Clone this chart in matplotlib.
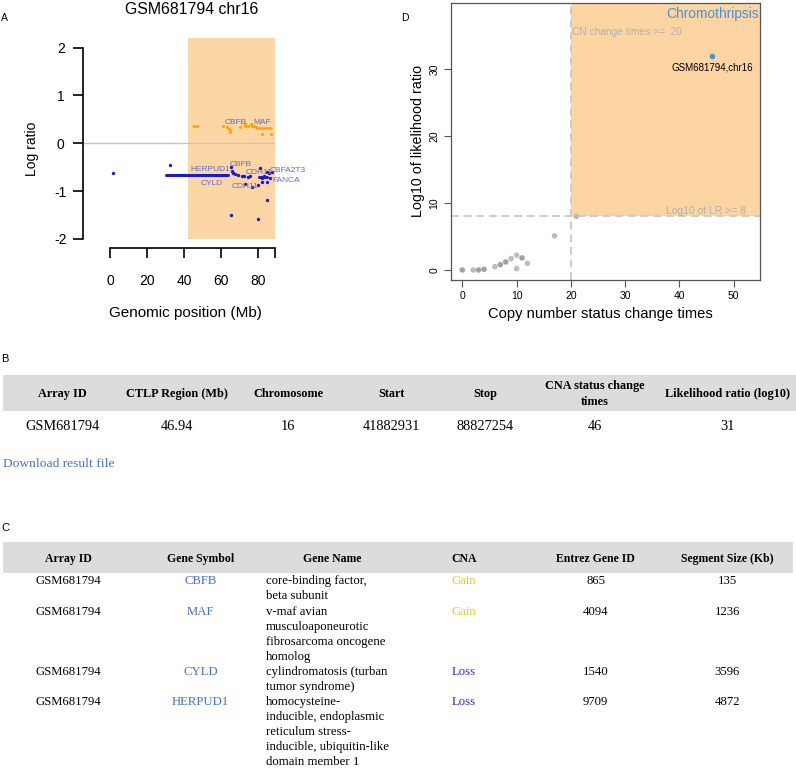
import matplotlib
matplotlib.use('Agg')
import matplotlib.pyplot as plt
from matplotlib.patches import Rectangle
from matplotlib.transforms import offset_copy

plt.rcParams['font.family'] = ['Liberation Sans', 'DejaVu Sans']
plt.rcParams['axes.unicode_minus'] = False

# ---------------- data ----------------
# Panel A: GSM681794 chr16 log ratios
chrom_title = "GSM681794 chr16"
ctlp_start_mb = 41.882931
ctlp_stop_mb = 88.827254
chrom_end_mb = 88.8

gain_pts_x = [61.1, 62.9, 64.2, 64.7, 65.0, 70.1, 72.8, 73.1, 74.6, 75.8, 76.8, 77.7, 78.5, 81.8, 86.8]
gain_pts_y = [0.37, 0.33, 0.30, 0.27, 0.23, 0.33, 0.36, 0.41, 0.36, 0.41, 0.37, 0.36, 0.34, 0.19, 0.19]
gain_seg_start = [45.0, 79.0]
gain_seg_end = [47.6, 86.8]
gain_seg_val = [0.37, 0.32]

loss_pts_x = [1.8, 32.4, 65.3, 65.6, 66.5, 67.4, 69.2, 71.0, 72.5, 74.6, 75.5, 72.8, 76.6, 80.0,
              80.9, 81.8, 84.5, 86.3, 84.5, 85.8, 87.2, 84.5, 65.3, 80.0, 82.0, 83.0]
loss_pts_y = [-0.63, -0.45, -0.49, -0.57, -0.62, -0.64, -0.66, -0.68, -0.68, -0.70, -0.69, -0.86, -0.92, -0.88,
              -0.52, -0.81, -0.80, -0.73, -0.61, -0.63, -0.61, -1.18, -1.50, -1.58, -0.72, -0.68]
loss_seg_start = [30.2, 33.6, 80.3]
loss_seg_end = [32.9, 63.8, 84.5]
loss_seg_val = [-0.655, -0.655, -0.70]

gene_labels = ['CBFB', 'MAF', 'HERPUD1', 'CBFB', 'CDH11', 'CBFA2T3', 'CYLD', 'CDH11', 'FANCA']
gene_label_x = [68.1, 82.3, 54.1, 70.8, 80.2, 96.0, 54.8, 73.1, 95.3]
gene_label_y = [0.47, 0.47, -0.51, -0.42, -0.58, -0.54, -0.80, -0.88, -0.75]

a_xticks = [0, 20, 40, 60, 80]
a_yticks = [-2, -1, 0, 1, 2]

# Panel D: screening scatter
cn_change_times = [0, 2, 3, 4, 6, 7, 8, 9, 10, 10, 11, 12, 17, 21]
log10_lr = [0, 0, 0, 0.1, 0.5, 0.8, 1.2, 1.7, 2.2, 0.2, 1.8, 1.0, 5.1, 8.0]
point_dark = [1, 0, 1, 1, 0, 1, 1, 0, 0, 0, 1, 0, 0, 0]
hit_x = [46]
hit_y = [32]
hit_label = "GSM681794,chr16"
cn_threshold = 20
lr_threshold = 8
d_xticks = [0, 10, 20, 30, 40, 50]
d_yticks = [0, 10, 20, 30]

# Panel B table
tableB_headers = ['Array ID', 'CTLP Region (Mb)', 'Chromosome', 'Start', 'Stop',
                  'CNA status change\ntimes', 'Likelihood ratio (log10)']
tableB_row = ['GSM681794', '46.94', '16', '41882931', '88827254', '46', '31']

# Panel C table
tableC_headers = ['Array ID', 'Gene Symbol', 'Gene Name', 'CNA', 'Entrez Gene ID', 'Segment Size (Kb)']
tableC_array = ['GSM681794', 'GSM681794', 'GSM681794', 'GSM681794']
tableC_symbol = ['CBFB', 'MAF', 'CYLD', 'HERPUD1']
tableC_name = ['core-binding factor,\nbeta subunit',
               'v-maf avian\nmusculoaponeurotic\nfibrosarcoma oncogene\nhomolog',
               'cylindromatosis (turban\ntumor syndrome)',
               'homocysteine-\ninducible, endoplasmic\nreticulum stress-\ninducible, ubiquitin-like\ndomain member 1']
tableC_cna = ['Gain', 'Gain', 'Loss', 'Loss']
tableC_entrez = ['865', '4094', '1540', '9709']
tableC_size = ['135', '1236', '3596', '4872']

# ---------------- figure ----------------
W, H = 796, 768
fig = plt.figure(figsize=(W / 100, H / 100), dpi=100)

SANS = ['Liberation Sans', 'DejaVu Sans']
SERIF = ['Liberation Serif', 'DejaVu Serif']


def ftext(x, y, s, size, family=SANS, ha='center', color='black', weight='normal', capk=0.36, **kw):
    """place text so that its visual (cap) centre sits at pixel (x, y)"""
    base = y + capk * size * 100 / 72
    fig.text(x / W, 1 - base / H, s, fontsize=size, family=family, ha=ha, va='baseline',
             color=color, fontweight=weight, **kw)


def axpos(l, t, r, b):
    return [l / W, 1 - b / H, (r - l) / W, (b - t) / H]


# ---------- Panel A ----------
A_l, A_t, A_r, A_b = 83.3, 38.0, 274.6, 248.0
axA = fig.add_axes(axpos(A_l, A_t, A_r, A_b))
axA.set_xlim(-14.4, 88.8)
axA.set_ylim(-2.19, 2.20)
axA.add_patch(Rectangle((ctlp_start_mb, -2.0), ctlp_stop_mb - ctlp_start_mb, 4.5,
                        facecolor='#fdd6a6', edgecolor='none', zorder=0))
axA.axhline(0, color='#c4c4c4', lw=1.0, zorder=1)
for s0, s1, v in zip(gain_seg_start, gain_seg_end, gain_seg_val):
    axA.plot([s0, s1], [v, v], color='#ffa500', lw=1.8, solid_capstyle='round', zorder=2)
for s0, s1, v in zip(loss_seg_start, loss_seg_end, loss_seg_val):
    axA.plot([s0, s1], [v, v], color='#1a1ad0', lw=2.2, solid_capstyle='round', zorder=2)
axA.scatter(gain_pts_x, gain_pts_y, s=5, color='#ffa500', linewidths=0, zorder=3)
axA.scatter(loss_pts_x, loss_pts_y, s=6, color='#1a1ad0', linewidths=0, zorder=3)
for lab, gx, gy in zip(gene_labels, gene_label_x, gene_label_y):
    axA.text(gx, gy, lab, fontsize=6.0, color='#5e6cc8', ha='center', va='baseline',
             transform=offset_copy(axA.transData, fig=fig, y=-0.36 * 6.0, units='points'),
             clip_on=False, zorder=4)

for sp in ['top', 'right']:
    axA.spines[sp].set_visible(False)
axA.spines['left'].set_bounds(-2, 2)
axA.spines['bottom'].set_bounds(0, chrom_end_mb)
for sp in ['left', 'bottom']:
    axA.spines[sp].set_linewidth(1.2)
axA.set_xticks(a_xticks + [chrom_end_mb], labels=[str(t) for t in a_xticks] + [''])
axA.set_yticks(a_yticks, labels=[str(t) for t in a_yticks])
axA.tick_params(axis='x', length=7.2, width=1.2, labelsize=10, pad=11.5)
axA.tick_params(axis='y', length=7.2, width=1.2, labelsize=10, pad=9.0)
for t in axA.get_yticklabels():
    t.set_ha('center')
axA.set_xlabel('Genomic position (Mb)', fontsize=11)
axA.xaxis.set_label_coords((185 - A_l) / (A_r - A_l), -(313.5 - A_b) / (A_b - A_t))
axA.xaxis.label.set_va('center')
axA.set_ylabel('Log ratio', fontsize=10)
axA.yaxis.set_label_coords((31.7 - A_l) / (A_r - A_l), (A_b - 149) / (A_b - A_t))
axA.yaxis.label.set_va('center')
ftext(191.7, 8.5, chrom_title, 11.4)
ftext(4.5, 17.3, 'A', 7.5)

# ---------- Panel D ----------
D_l, D_t, D_r, D_b = 450.7, 3.3, 760.0, 280.0
axD = fig.add_axes(axpos(D_l, D_t, D_r, D_b))
axD.set_xlim(-2.14, 54.83)
axD.set_ylim(-1.5, 39.87)
axD.add_patch(Rectangle((cn_threshold, lr_threshold), 60, 60, facecolor='#fdd5a3',
                        edgecolor='none', zorder=0))
axD.axvline(cn_threshold, color='#cbcbcb', lw=1.4, ls=(0, (4, 2.5)), zorder=1)
axD.axhline(lr_threshold, color='#cbcbcb', lw=1.4, ls=(0, (4, 2.5)), zorder=1)
cols = ['#a2a2a2' if d else '#bcbcbc' for d in point_dark]
axD.scatter(cn_change_times, log10_lr, s=16, c=cols, linewidths=0, zorder=3)
axD.scatter(hit_x, hit_y, s=16, color='#4a90d9', linewidths=0, zorder=3)
axD.text(hit_x[0], 30.4, hit_label, fontsize=7, ha='center', va='baseline',
         transform=offset_copy(axD.transData, fig=fig, y=-0.36 * 7, units='points'))
axD.text(54.7, 38.47, 'Chromothripsis', fontsize=9.9, color='#4a90d9', ha='right', va='baseline',
         transform=offset_copy(axD.transData, fig=fig, y=-0.36 * 9.9, units='points'))
axD.text(20.2, 35.7, 'CN change times >=  20', fontsize=7.3, color='#b0b0b0', ha='left', va='baseline',
         transform=offset_copy(axD.transData, fig=fig, y=-0.36 * 7.3, units='points'))
axD.text(52.16, 8.87, 'Log10 of LR >= 8', fontsize=7.5, color='#b0b0b0', ha='right', va='baseline',
         transform=offset_copy(axD.transData, fig=fig, y=-0.36 * 7.5, units='points'))
for sp in axD.spines.values():
    sp.set_color('#555555')
    sp.set_linewidth(0.9)
axD.set_xticks(d_xticks, labels=[str(t) for t in d_xticks])
axD.set_yticks(d_yticks, labels=[str(t) for t in d_yticks])
axD.tick_params(axis='both', length=5, width=0.8, color='#555555', labelsize=7.5, pad=3.2)
for t in axD.get_yticklabels():
    t.set_rotation(90)
    t.set_va('center')
axD.set_xlabel('Copy number status change times', fontsize=10.6)
axD.xaxis.set_label_coords((600 - D_l) / (D_r - D_l), -(314 - D_b) / (D_b - D_t))
axD.xaxis.label.set_va('center')
axD.set_ylabel('Log10 of likelihood ratio', fontsize=10.3)
axD.yaxis.set_label_coords((418 - D_l) / (D_r - D_l), (D_b - 141) / (D_b - D_t))
axD.yaxis.label.set_va('center')
ftext(404.5, 17.3, 'D', 7.5)

# ---------- Panel B table ----------
ftext(5, 358.5, 'B', 8)
fig.add_artist(Rectangle((2.7 / W, 1 - 411 / H), (796 - 2.7) / W, 36 / H,
                         transform=fig.transFigure, facecolor='#dcdcdc', edgecolor='none'))
B_cols = [62.8, 176.5, 288.2, 391.5, 485.0, 595.0, 727.5]
for cx, hdr in zip(B_cols, tableB_headers):
    lines = hdr.split('\n')
    n = len(lines)
    for i, ln in enumerate(lines):
        yy = 392.8 + (i - (n - 1) / 2) * 15.7
        ftext(cx, yy, ln, 8.8, family=SERIF, weight='bold', capk=0.33)
for cx, val in zip(B_cols, tableB_row):
    ftext(cx, 425.7, val, 10.4, family=SERIF, capk=0.33)
ftext(2.7, 462.7, 'Download result file', 9.7, family=SERIF, ha='left', color='#4a6fd6', capk=0.33)

# ---------- Panel C table ----------
ftext(5, 527, 'C', 8)
fig.add_artist(Rectangle((3 / W, 1 - 572.7 / H), (793 - 3) / W, 31 / H,
                         transform=fig.transFigure, facecolor='#dcdcdc', edgecolor='none'))
C_cols = [68.8, 200.5, 332.0, 463.7, 595.7, 727.2]
name_left = 266.0
for cx, hdr in zip(C_cols, tableC_headers):
    ftext(cx, 557.7, hdr, 8.5, family=SERIF, weight='bold', capk=0.33)
line_h = 15.05
y0 = 580.2
k = 0
for arr, sym, name, cna, ent, size in zip(tableC_array, tableC_symbol, tableC_name,
                                          tableC_cna, tableC_entrez, tableC_size):
    yy = y0 + k * line_h
    ftext(C_cols[0], yy, arr, 9.2, family=SERIF, capk=0.33)
    ftext(C_cols[1], yy, sym, 9.2, family=SERIF, color='#4a6fd6', capk=0.33)
    ftext(C_cols[3], yy, cna, 9.2, family=SERIF,
          color='#f2c430' if cna == 'Gain' else '#2a2ae0', capk=0.33)
    ftext(C_cols[4], yy, ent, 9.2, family=SERIF, capk=0.33)
    ftext(C_cols[5], yy, size, 9.2, family=SERIF, capk=0.33)
    for j, ln in enumerate(name.split('\n')):
        ftext(name_left, yy + j * line_h, ln, 9.2, family=SERIF, ha='left', capk=0.33)
    k += len(name.split('\n'))

fig.savefig('out.png', dpi=100)
